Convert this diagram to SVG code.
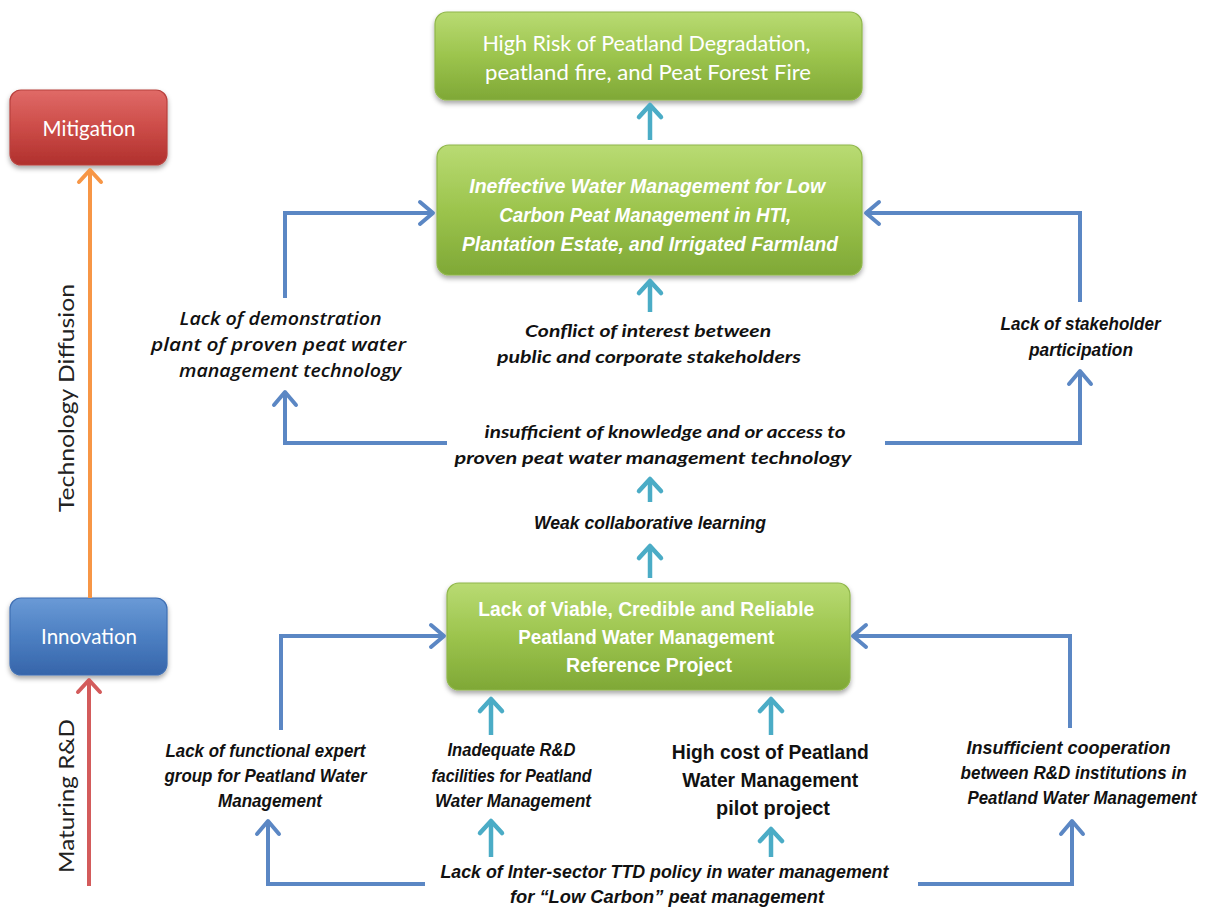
<svg xmlns="http://www.w3.org/2000/svg" width="1205" height="908" viewBox="0 0 1205 908">
  <defs>
    <linearGradient id="gGreen" x1="0" y1="0" x2="0" y2="1">
      <stop offset="0" stop-color="#b9db73"/>
      <stop offset="0.5" stop-color="#9cc44d"/>
      <stop offset="1" stop-color="#7fa836"/>
    </linearGradient>
    <linearGradient id="gRed" x1="0" y1="0" x2="0" y2="1">
      <stop offset="0" stop-color="#e06a67"/>
      <stop offset="0.5" stop-color="#cc4c48"/>
      <stop offset="1" stop-color="#b0302d"/>
    </linearGradient>
    <linearGradient id="gBlue" x1="0" y1="0" x2="0" y2="1">
      <stop offset="0" stop-color="#6a9ad6"/>
      <stop offset="0.5" stop-color="#4c7fc2"/>
      <stop offset="1" stop-color="#3665aa"/>
    </linearGradient>
    <filter id="shadow" x="-10%" y="-10%" width="120%" height="130%">
      <feDropShadow dx="0" dy="3" stdDeviation="2.5" flood-color="#000" flood-opacity="0.35"/>
    </filter>
    <marker id="ahBlue" markerUnits="userSpaceOnUse" viewBox="-16 -16 20 32" markerWidth="20" markerHeight="32" refX="0" refY="0" orient="auto">
      <path d="M-13,-11 L0,0 L-13,11" fill="none" stroke="#5b87c4" stroke-width="4" stroke-linecap="round" stroke-linejoin="round"/>
    </marker>
    <marker id="ahCyan" markerUnits="userSpaceOnUse" viewBox="-16 -16 20 32" markerWidth="20" markerHeight="32" refX="0" refY="0" orient="auto">
      <path d="M-12,-11 L0,0 L-12,11" fill="none" stroke="#4bacc6" stroke-width="4.5" stroke-linecap="round" stroke-linejoin="round"/>
    </marker>
    <marker id="ahOrange" markerUnits="userSpaceOnUse" viewBox="-16 -16 20 32" markerWidth="20" markerHeight="32" refX="0" refY="0" orient="auto">
      <path d="M-12,-11 L0,0 L-12,11" fill="none" stroke="#f79646" stroke-width="4" stroke-linecap="round" stroke-linejoin="round"/>
    </marker>
    <marker id="ahRed" markerUnits="userSpaceOnUse" viewBox="-16 -16 20 32" markerWidth="20" markerHeight="32" refX="0" refY="0" orient="auto">
      <path d="M-12,-11 L0,0 L-12,11" fill="none" stroke="#d35b5b" stroke-width="4" stroke-linecap="round" stroke-linejoin="round"/>
    </marker>
  </defs>
  <style>
    .box { filter: url(#shadow); stroke-width: 1.2; }
    .green { fill: url(#gGreen); stroke: #8fb64a; }
    .red { fill: url(#gRed); stroke: #b8403d; }
    .blue { fill: url(#gBlue); stroke: #3f6fb3; }
    .cal { font-family: Lato, "Open Sans", "Liberation Sans", sans-serif; }
    .os { font-family: "Open Sans", Lato, "Liberation Sans", sans-serif; }
    .nar { font-family: "Liberation Sans Narrow", "Liberation Sans", Arial, sans-serif; }
    .wt { fill: #ffffff; text-anchor: middle; }
    .bk { fill: #111111; text-anchor: middle; }
    .bi { font-weight: bold; font-style: italic; }
    .b { font-weight: bold; }
    .it { font-style: italic; font-weight: 600; }
    .conn { fill: none; stroke: #5b87c4; stroke-width: 4; marker-end: url(#ahBlue); }
    .up { fill: none; stroke: #4bacc6; stroke-width: 4.5; marker-end: url(#ahCyan); }
  </style>

  <!-- phase boxes on the left -->
  <g id="mitigation">
    <rect class="box red" x="10" y="90" width="157" height="75" rx="11"/>
    <text class="cal wt" x="89" y="136" font-size="20.5">Mitigation</text>
  </g>
  <g id="innovation">
    <rect class="box blue" x="10" y="598" width="157" height="77" rx="11"/>
    <text class="cal wt" x="89" y="644" font-size="20.5">Innovation</text>
  </g>
  <g id="technology-diffusion">
    <text class="cal" fill="#222" text-anchor="middle" font-size="21" transform="translate(74,398) rotate(-90)" textLength="228" lengthAdjust="spacingAndGlyphs">Technology  Diffusion</text>
  </g>
  <g id="maturing-rd">
    <text class="cal" fill="#222" text-anchor="middle" font-size="21" transform="translate(74,796) rotate(-90)" textLength="154" lengthAdjust="spacingAndGlyphs">Maturing R&amp;D</text>
  </g>

  <!-- green problem boxes -->
  <g id="high-risk">
    <rect class="box green" x="435" y="12" width="427" height="88" rx="12"/>
    <text class="cal wt" font-size="20.5">
      <tspan x="649" y="51" textLength="328" lengthAdjust="spacingAndGlyphs">High Risk of Peatland Degradation,</tspan>
      <tspan x="648" y="80" textLength="326" lengthAdjust="spacingAndGlyphs">peatland fire, and Peat Forest Fire</tspan>
    </text>
  </g>
  <g id="ineffective-water-management">
    <rect class="box green" x="437" y="145" width="425" height="130" rx="12"/>
    <text class="nar wt bi" font-size="20">
      <tspan x="650" y="193" textLength="356" lengthAdjust="spacingAndGlyphs">Ineffective Water Management for Low</tspan>
      <tspan x="648" y="222" textLength="292" lengthAdjust="spacingAndGlyphs">Carbon Peat Management in HTI,</tspan>
      <tspan x="650" y="251" textLength="376" lengthAdjust="spacingAndGlyphs">Plantation Estate, and Irrigated Farmland</tspan>
    </text>
  </g>
  <g id="reference-project">
    <rect class="box green" x="447" y="583" width="403" height="107" rx="12"/>
    <text class="nar wt b" font-size="20">
      <tspan x="649" y="616" textLength="336" lengthAdjust="spacingAndGlyphs">Lack of Viable, Credible and Reliable</tspan>
      <tspan x="649" y="644" textLength="256" lengthAdjust="spacingAndGlyphs">Peatland Water Management</tspan>
      <tspan x="649" y="672" textLength="166" lengthAdjust="spacingAndGlyphs">Reference Project</tspan>
    </text>
  </g>

  <!-- cause labels -->
  <g id="conflict-of-interest">
    <text class="cal bk bi" font-size="17">
      <tspan x="650" y="337" textLength="246" lengthAdjust="spacingAndGlyphs">Conflict of interest between</tspan>
      <tspan x="649" y="363" textLength="304" lengthAdjust="spacingAndGlyphs">public and corporate stakeholders</tspan>
    </text>
  </g>
  <g id="demonstration-plant">
    <text class="os bk it" font-size="18.5">
      <tspan x="283" y="325" textLength="202" lengthAdjust="spacingAndGlyphs">Lack of demonstration</tspan>
      <tspan x="281" y="351" textLength="255" lengthAdjust="spacingAndGlyphs">plant of proven peat water</tspan>
      <tspan x="290" y="377" textLength="222" lengthAdjust="spacingAndGlyphs">management technology</tspan>
    </text>
  </g>
  <g id="stakeholder-participation">
    <text class="nar bk bi" font-size="17.5">
      <tspan x="1083" y="330" textLength="160" lengthAdjust="spacingAndGlyphs">Lack of stakeholder</tspan>
      <tspan x="1081" y="356" textLength="104" lengthAdjust="spacingAndGlyphs">participation</tspan>
    </text>
  </g>
  <g id="insufficient-knowledge">
    <text class="cal bk bi" font-size="17">
      <tspan x="667" y="438" textLength="361" lengthAdjust="spacingAndGlyphs">insufficient of knowledge and or access to</tspan>
      <tspan x="653" y="464" textLength="397" lengthAdjust="spacingAndGlyphs">proven peat water management technology</tspan>
    </text>
  </g>
  <g id="weak-learning">
    <text class="nar bk bi" font-size="17.5" x="650" y="529" textLength="232" lengthAdjust="spacingAndGlyphs">Weak collaborative learning</text>
  </g>
  <g id="expert-group">
    <text class="nar bk bi" font-size="18">
      <tspan x="268" y="757" textLength="200" lengthAdjust="spacingAndGlyphs">Lack of functional  expert</tspan>
      <tspan x="268" y="782" textLength="202" lengthAdjust="spacingAndGlyphs">group for Peatland  Water</tspan>
      <tspan x="270" y="807" textLength="104" lengthAdjust="spacingAndGlyphs">Management</tspan>
    </text>
  </g>
  <g id="rd-facilities">
    <text class="nar bk bi" font-size="18">
      <tspan x="514" y="756" textLength="128" lengthAdjust="spacingAndGlyphs">Inadequate R&amp;D</tspan>
      <tspan x="514" y="782" textLength="160" lengthAdjust="spacingAndGlyphs">facilities for Peatland</tspan>
      <tspan x="513" y="807" textLength="156" lengthAdjust="spacingAndGlyphs">Water Management</tspan>
    </text>
  </g>
  <g id="pilot-cost">
    <text class="nar bk b" font-size="19.5">
      <tspan x="773" y="759" textLength="197" lengthAdjust="spacingAndGlyphs">High cost of Peatland</tspan>
      <tspan x="773" y="787" textLength="176" lengthAdjust="spacingAndGlyphs">Water Management</tspan>
      <tspan x="773" y="815" textLength="114" lengthAdjust="spacingAndGlyphs">pilot project</tspan>
    </text>
  </g>
  <g id="rd-cooperation">
    <text class="nar bk bi" font-size="17.5">
      <tspan x="1071" y="754" textLength="204" lengthAdjust="spacingAndGlyphs">Insufficient cooperation</tspan>
      <tspan x="1076" y="779" textLength="226" lengthAdjust="spacingAndGlyphs">between R&amp;D institutions in</tspan>
      <tspan x="1082" y="804" textLength="229" lengthAdjust="spacingAndGlyphs">Peatland  Water Management</tspan>
    </text>
  </g>
  <g id="tdd-policy">
    <text class="nar bk bi" font-size="18.5">
      <tspan x="667" y="878" textLength="448" lengthAdjust="spacingAndGlyphs">Lack of Inter-sector TTD policy in water management</tspan>
      <tspan x="667" y="903" textLength="314" lengthAdjust="spacingAndGlyphs">for “Low Carbon” peat management</tspan>
    </text>
  </g>

  <!-- connectors -->
  <g id="connectors">
    <path d="M90,598 V170" fill="none" stroke="#f79646" stroke-width="4" marker-end="url(#ahOrange)"/>
    <path d="M89,886 V680" fill="none" stroke="#d35b5b" stroke-width="4" marker-end="url(#ahRed)"/>

    <path class="up" d="M650,140 V105"/>
    <path class="up" d="M650,312 V281"/>
    <path class="up" d="M650,502 V479"/>
    <path class="up" d="M650,578 V546"/>
    <path class="up" d="M491,735 V699"/>
    <path class="up" d="M771,735 V699"/>
    <path class="up" d="M491,857 V821"/>
    <path class="up" d="M771,857 V829"/>

    <path class="conn" d="M285,298 V213 H433"/>
    <path class="conn" d="M1080,302 V213 H866"/>
    <path class="conn" d="M447,443 H285 V392"/>
    <path class="conn" d="M885,443 H1080 V371"/>
    <path class="conn" d="M281,730 V636 H444"/>
    <path class="conn" d="M1070,728 V636 H853"/>
    <path class="conn" d="M425,884 H268 V821"/>
    <path class="conn" d="M918,884 H1072 V821"/>
  </g>
</svg>
